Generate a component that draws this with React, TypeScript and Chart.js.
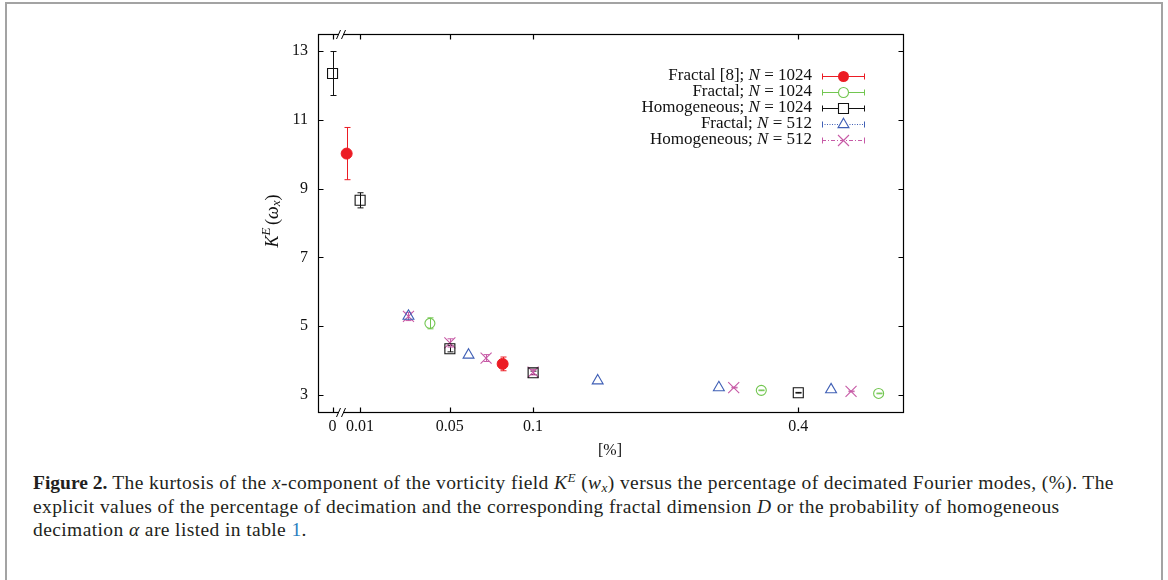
import React, { useEffect, useRef } from "react";
import { Chart, registerables } from "chart.js";

Chart.register(...registerables);

// ---------------- data ----------------
const xTickValues = [0, 0.01, 0.05, 0.1, 0.4];
const xTickLabels = ["0", "0.01", "0.05", "0.1", "0.4"];
const yTickValues = [3, 5, 7, 9, 11, 13];
const yTickLabels = ["3", "5", "7", "9", "11", "13"];

const fractal8X = [0.005, 0.08];
const fractal8Y = [10.02, 3.9];
const fractal8Err = [0.76, 0.2];

const fractal1024X = [0.04, 0.34, 0.56];
const fractal1024Y = [5.08, 3.13, 3.04];
const fractal1024Err = [0.16, 0.01, 0.01];

const homog1024X = [0, 0.01, 0.05, 0.1, 0.4];
const homog1024Y = [12.35, 8.66, 4.34, 3.64, 3.06];
const homog1024Err = [0.64, 0.22, 0.09, 0.05, 0.01];

const fractal512X = [0.03, 0.06, 0.15, 0.28, 0.46];
const fractal512Y = [5.29, 4.16, 3.41, 3.21, 3.15];

const homog512X = [0.03, 0.05, 0.07, 0.1, 0.3, 0.5];
const homog512Y = [5.28, 4.51, 4.07, 3.66, 3.21, 3.1];
const homog512Err = [0.12, 0.12, 0.1, 0.08, 0.01, 0.01];

const legendPrefix = ["Fractal [8]; ", "Fractal; ", "Homogeneous; ", "Fractal; ", "Homogeneous; "];
const legendN = ["1024", "1024", "1024", "512", "512"];

// ---------------- styles ----------------
const RED = "#ec1c24";
const GREEN = "#72c650";
const BLACK = "#111111";
const BLUE = "#3f5fb5";
const MAGENTA = "#c75aa6";
const FONT = '"Liberation Serif", "DejaVu Serif", serif';

const W = 1168;
const H = 465;
const AREA = { left: 318, top: 34, right: 903, bottom: 412 };

// axis transform: position ~ ln(p + 0.1)
const tx = (p: number) => Math.log(p + 0.1);

const mk = (xs: number[], ys: number[]) => xs.map((p, i) => ({ x: tx(p), y: ys[i] }));

const seriesColors = [RED, GREEN, BLACK, BLUE, MAGENTA];
const seriesMarkers = ["fcircle", "circle", "square", "triangle", "cross"];
const seriesDash: number[][] = [[], [], [], [1, 1.5], [4, 2, 1, 2]];
const seriesErr: (number[] | null)[] = [fractal8Err, fractal1024Err, homog1024Err, null, homog512Err];

function drawMarker(ctx: CanvasRenderingContext2D, style: string, x: number, y: number, color: string) {
  ctx.save();
  ctx.setLineDash([]);
  ctx.strokeStyle = color;
  ctx.fillStyle = color;
  ctx.lineWidth = 1.1;
  ctx.beginPath();
  if (style === "fcircle") {
    ctx.arc(x, y, 5.5, 0, Math.PI * 2);
    ctx.fill();
  } else if (style === "circle") {
    ctx.arc(x, y, 5, 0, Math.PI * 2);
    ctx.stroke();
  } else if (style === "square") {
    ctx.rect(x - 5, y - 5, 10, 10);
    ctx.stroke();
  } else if (style === "triangle") {
    const r = 6.3;
    const s = Math.sin(Math.PI / 3) * r;
    ctx.moveTo(x, y - r);
    ctx.lineTo(x + s, y + r / 2);
    ctx.lineTo(x - s, y + r / 2);
    ctx.closePath();
    ctx.stroke();
  } else {
    const d = 5.5;
    ctx.moveTo(x - d, y - d);
    ctx.lineTo(x + d, y + d);
    ctx.moveTo(x + d, y - d);
    ctx.lineTo(x - d, y + d);
    ctx.stroke();
  }
  ctx.restore();
}

const errorBarPlugin = {
  id: "errorBars",
  beforeDatasetsDraw(chart: any) {
    const ctx: CanvasRenderingContext2D = chart.ctx;
    const xs = chart.scales.x;
    const ys = chart.scales.y;
    ctx.save();
    chart.data.datasets.forEach((ds: any, di: number) => {
      const errs = seriesErr[di];
      if (!errs) return;
      ctx.strokeStyle = seriesColors[di];
      ctx.lineWidth = 1;
      ds.data.forEach((pt: any, i: number) => {
        const e = errs[i];
        const px = Math.round(xs.getPixelForValue(pt.x)) + 0.5;
        const y1 = ys.getPixelForValue(pt.y + e);
        const y2 = ys.getPixelForValue(pt.y - e);
        ctx.beginPath();
        ctx.moveTo(px, y1);
        ctx.lineTo(px, y2);
        ctx.moveTo(px - 3, y1);
        ctx.lineTo(px + 3, y1);
        ctx.moveTo(px - 3, y2);
        ctx.lineTo(px + 3, y2);
        ctx.stroke();
      });
    });
    ctx.restore();
  },
};

const framePlugin = {
  id: "frame",
  afterDraw(chart: any) {
    const ctx: CanvasRenderingContext2D = chart.ctx;
    const a = chart.chartArea;
    const xs = chart.scales.x;
    const ys = chart.scales.y;
    const L = Math.round(a.left) + 0.5;
    const R = Math.round(a.right) + 0.5;
    const T = Math.round(a.top) + 0.5;
    const B = Math.round(a.bottom) + 0.5;
    ctx.save();
    ctx.strokeStyle = "#000";
    ctx.lineWidth = 1.2;
    ctx.strokeRect(L, T, R - L, B - T);
    // inward ticks
    const tl = 5;
    ctx.beginPath();
    xTickValues.forEach((v) => {
      const px = Math.round(xs.getPixelForValue(tx(v))) + 0.5;
      ctx.moveTo(px, B);
      ctx.lineTo(px, B - tl);
      ctx.moveTo(px, T);
      ctx.lineTo(px, T + tl);
    });
    yTickValues.forEach((v) => {
      const py = Math.round(ys.getPixelForValue(v)) + 0.5;
      ctx.moveTo(L, py);
      ctx.lineTo(L + tl, py);
      ctx.moveTo(R, py);
      ctx.lineTo(R - tl, py);
    });
    ctx.stroke();

    // axis break marks //
    const bx = 342;
    [T, B].forEach((yy) => {
      ctx.fillStyle = "#fff";
      ctx.fillRect(bx - 3, yy - 1.5, 4, 3);
      ctx.beginPath();
      ctx.lineWidth = 1;
      ctx.moveTo(bx - 5.5, yy + 4.5);
      ctx.lineTo(bx - 1.5, yy - 4.5);
      ctx.moveTo(bx - 0.5, yy + 4.5);
      ctx.lineTo(bx + 3.5, yy - 4.5);
      ctx.stroke();
    });

    // legend
    const textRight = 812;
    const lineL = 822;
    const lineR = 865;
    const mx = 843.5;
    for (let i = 0; i < 5; i++) {
      const y = 75.7 + 16 * i;
      const f = "17px " + FONT;
      const fi = "italic 17px " + FONT;
      const tail = " = " + legendN[i];
      ctx.fillStyle = "#111";
      ctx.textBaseline = "middle";
      ctx.textAlign = "left";
      ctx.font = f;
      const wTail = ctx.measureText(tail).width;
      const wPre = ctx.measureText(legendPrefix[i]).width;
      ctx.font = fi;
      const wN = ctx.measureText("N").width;
      const x0 = textRight - wTail - wN - wPre;
      ctx.font = f;
      ctx.fillText(legendPrefix[i], x0, y);
      ctx.font = fi;
      ctx.fillText("N", x0 + wPre, y);
      ctx.font = f;
      ctx.fillText(tail, x0 + wPre + wN, y);

      const c = seriesColors[i];
      const yy = Math.round(y) + 0.5;
      ctx.strokeStyle = c;
      ctx.lineWidth = 1;
      ctx.setLineDash(seriesDash[i]);
      ctx.beginPath();
      ctx.moveTo(lineL, yy);
      ctx.lineTo(lineR, yy);
      ctx.stroke();
      ctx.setLineDash([]);
      ctx.beginPath();
      ctx.moveTo(lineL + 0.5, yy - 3);
      ctx.lineTo(lineL + 0.5, yy + 3);
      ctx.moveTo(lineR - 0.5, yy - 3);
      ctx.lineTo(lineR - 0.5, yy + 3);
      ctx.stroke();
      if (seriesMarkers[i] !== "fcircle" && seriesMarkers[i] !== "cross") {
        ctx.fillStyle = "#fff";
        ctx.beginPath();
        ctx.arc(mx, yy, 5, 0, Math.PI * 2);
        ctx.fill();
      }
      drawMarker(ctx, seriesMarkers[i], mx, yy, c);
    }

    // y-axis title  K^E(ω_x)
    ctx.save();
    ctx.translate(273, 221);
    ctx.rotate(-Math.PI / 2);
    ctx.fillStyle = "#111";
    ctx.textBaseline = "middle";
    ctx.textAlign = "left";
    const segs = [
      { t: "K", f: "italic 18px " + FONT, dy: 0 },
      { t: "E", f: "italic 13px " + FONT, dy: -6.5 },
      { t: "(", f: "18px " + FONT, dy: 0, pad: 2.5 },
      { t: "ω", f: "italic 18px " + FONT, dy: 0 },
      { t: "x", f: "italic 13px " + FONT, dy: 3.5 },
      { t: ")", f: "18px " + FONT, dy: 0 },
    ];
    let total = 0;
    const widths = segs.map((s: any) => {
      ctx.font = s.f;
      const w = ctx.measureText(s.t).width + (s.pad || 0);
      total += w;
      return w;
    });
    let cx = -total / 2;
    segs.forEach((s: any, i) => {
      ctx.font = s.f;
      ctx.fillText(s.t, cx + (s.pad || 0), s.dy);
      cx += widths[i];
    });
    ctx.restore();

    // x-axis title
    ctx.fillStyle = "#111";
    ctx.font = "16px " + FONT;
    ctx.textAlign = "center";
    ctx.textBaseline = "middle";
    ctx.fillText("[%]", 610, 451);
    ctx.restore();
  },
};

export default function App() {
  const ref = useRef<HTMLCanvasElement>(null);

  useEffect(() => {
    const canvas = ref.current;
    if (!canvas) return;
    const datasets = [
      { data: mk(fractal8X, fractal8Y), pointStyle: "circle", pointRadius: 5.5, backgroundColor: RED, borderColor: RED, borderWidth: 1 },
      { data: mk(fractal1024X, fractal1024Y), pointStyle: "circle", pointRadius: 5, backgroundColor: "rgba(0,0,0,0)", borderColor: GREEN, borderWidth: 1.1 },
      { data: mk(homog1024X, homog1024Y), pointStyle: "rect", pointRadius: 7.07, backgroundColor: "rgba(0,0,0,0)", borderColor: BLACK, borderWidth: 1.1 },
      { data: mk(fractal512X, fractal512Y), pointStyle: "triangle", pointRadius: 6.3, backgroundColor: "rgba(0,0,0,0)", borderColor: BLUE, borderWidth: 1.1 },
      { data: mk(homog512X, homog512Y), pointStyle: "crossRot", pointRadius: 7.8, backgroundColor: MAGENTA, borderColor: MAGENTA, borderWidth: 1.1 },
    ].map((d) => ({ ...d, showLine: false, pointHoverRadius: d.pointRadius }));

    const chart = new Chart(canvas, {
      type: "scatter",
      data: { datasets } as any,
      options: {
        animation: false,
        responsive: false,
        maintainAspectRatio: false,
        events: [],
        layout: { padding: { left: 0, top: AREA.top, right: W - AREA.right, bottom: 0 } },
        plugins: { legend: { display: false }, tooltip: { enabled: false }, title: { display: false } },
        scales: {
          x: {
            type: "linear",
            min: tx(-0.0049),
            max: tx(0.618),
            grid: { display: false, drawTicks: false },
            border: { display: false },
            afterBuildTicks: (s: any) => {
              s.ticks = xTickValues.map((v) => ({ value: tx(v) }));
            },
            afterFit: (s: any) => {
              s.height = H - AREA.bottom;
            },
            ticks: {
              autoSkip: false,
              maxRotation: 0,
              minRotation: 0,
              padding: 5,
              color: "#111",
              font: { family: FONT, size: 16 },
              callback: (_v: any, i: number) => xTickLabels[i],
            },
          },
          y: {
            type: "linear",
            min: 2.5,
            max: 13.5,
            grid: { display: false, drawTicks: false },
            border: { display: false },
            afterBuildTicks: (s: any) => {
              s.ticks = yTickValues.map((v) => ({ value: v }));
            },
            afterFit: (s: any) => {
              s.width = AREA.left;
            },
            ticks: {
              autoSkip: false,
              padding: 10,
              color: "#111",
              font: { family: FONT, size: 16 },
              callback: (_v: any, i: number) => yTickLabels[i],
            },
          },
        },
      } as any,
      plugins: [errorBarPlugin, framePlugin],
    });
    return () => chart.destroy();
  }, []);

  const sup: React.CSSProperties = { fontSize: "0.68em", position: "relative", top: "-0.5em", lineHeight: 0 };
  const sub: React.CSSProperties = { fontSize: "0.68em", position: "relative", top: "0.25em", lineHeight: 0 };

  return (
    <div style={{ position: "fixed", left: 0, top: 0, width: W, height: 580, background: "#fff", overflow: "hidden" }}>
      <div
        style={{
          position: "absolute",
          left: 5,
          top: 2,
          width: 1158,
          height: 700,
          boxSizing: "border-box",
          borderTop: "2px solid #a3a3a3",
          borderLeft: "2px solid #a3a3a3",
          borderRight: "2px solid #a3a3a3",
        }}
      />
      <canvas ref={ref} width={W} height={H} style={{ position: "absolute", left: 0, top: 0, width: W, height: H }} />
      <div
        style={{
          position: "absolute",
          left: 33,
          top: 471,
          fontFamily: FONT,
          fontSize: 19.5,
          letterSpacing: "0.4px",
          lineHeight: "23.5px",
          color: "#231f20",
          whiteSpace: "nowrap",
        }}
      >
        <b style={{ letterSpacing: 0 }}>Figure 2.</b> The kurtosis of the <i>x</i>-component of the vorticity field <i>K</i>
        <span style={sup}>
          <i>E</i>
        </span>
        &nbsp;(<i>w</i>
        <span style={sub}>
          <i>x</i>
        </span>
        ) versus the percentage of decimated Fourier modes, (%). The
        <br />
        explicit values of the percentage of decimation and the corresponding fractal dimension <i>D</i> or the probability of homogeneous
        <br />
        decimation <i>α</i> are listed in table <span style={{ color: "#2a7fbf" }}>1</span>.
      </div>
    </div>
  );
}
